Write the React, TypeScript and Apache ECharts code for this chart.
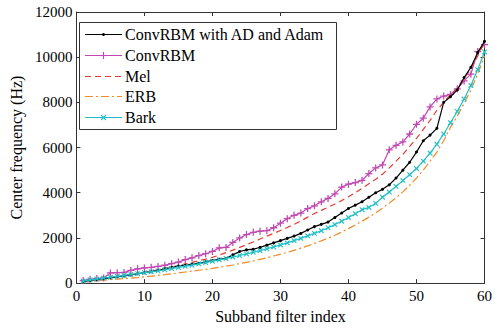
import { useEffect, useRef } from "react";
import * as echarts from "echarts";

const filterIndex = [
  1, 2, 3, 4, 5, 6, 7, 8, 9, 10, 11, 12, 13, 14, 15, 16, 17, 18, 19, 20,
  21, 22, 23, 24, 25, 26, 27, 28, 29, 30, 31, 32, 33, 34, 35, 36, 37, 38, 39, 40,
  41, 42, 43, 44, 45, 46, 47, 48, 49, 50, 51, 52, 53, 54, 55, 56, 57, 58, 59, 60,
];

const convRbmAdam = [
  80, 120, 160, 200, 240, 280, 320, 360, 410, 460, 500, 560, 630, 690, 750, 790, 830, 880, 940, 1000,
  1060, 1100, 1250, 1400, 1470, 1500, 1580, 1680, 1780, 1880, 1980, 2080, 2200, 2350, 2500, 2600, 2700, 2900, 3100, 3300,
  3450, 3600, 3800, 4000, 4150, 4350, 4650, 5000, 5350, 5800, 6300, 6550, 6850, 8000, 8250, 8550, 9100, 9550, 10200, 10700,
];

const convRbm = [
  110, 170, 200, 230, 450, 460, 470, 560, 630, 670, 700, 740, 790, 860, 930, 1040, 1120, 1220, 1300, 1400,
  1560, 1580, 1800, 2000, 2150, 2250, 2300, 2320, 2450, 2650, 2850, 3000, 3100, 3300, 3420, 3600, 3750, 3950, 4250, 4380,
  4450, 4550, 4850, 5100, 5230, 5900, 6100, 6250, 6600, 7030, 7300, 7800, 8150, 8280, 8350, 8600, 8950, 9250, 10250, 10560,
];

const mel = [
  70, 110, 150, 190, 230, 270, 320, 370, 420, 480, 530, 590, 650, 710, 780, 850, 920, 990, 1060, 1140,
  1240, 1350, 1460, 1580, 1700, 1820, 1950, 2080, 2200, 2330, 2460, 2600, 2750, 2920, 3080, 3220, 3360, 3500, 3650, 3820,
  4000, 4200, 4400, 4600, 4820, 5100, 5400, 5700, 6050, 6400, 6800, 7200, 7650, 8000, 8350, 8650, 9050, 9500, 10050, 10650,
];

const erb = [
  40, 70, 100, 130, 160, 180, 200, 220, 245, 275, 305, 340, 375, 415, 450, 490, 530, 570, 610, 650,
  700, 750, 800, 860, 920, 980, 1050, 1120, 1200, 1280, 1360, 1450, 1550, 1650, 1760, 1870, 1990, 2120, 2260, 2410,
  2570, 2740, 2920, 3110, 3320, 3540, 3780, 4040, 4330, 4650, 5000, 5400, 5800, 6300, 6900, 7400, 7950, 8550, 9250, 10050,
];

const bark = [
  90, 140, 180, 220, 260, 300, 340, 380, 420, 460, 500, 540, 590, 640, 690, 740, 790, 850, 910, 970,
  1030, 1090, 1150, 1220, 1290, 1360, 1440, 1520, 1600, 1690, 1780, 1880, 1980, 2090, 2200, 2320, 2450, 2590, 2740, 2900,
  3070, 3250, 3350, 3530, 3800, 4030, 4280, 4540, 4800, 5070, 5400, 5750, 6150, 6600, 7100, 7600, 8150, 8750, 9450, 10230,
];

const seriesNames = ["ConvRBM with AD and Adam", "ConvRBM", "Mel", "ERB", "Bark"];
const xLabel = "Subband filter index";
const yLabel = "Center frequency (Hz)";

const FONT = "Liberation Serif";
const AXIS_COLOR = "#333";
const PLUS = "path://M4.1,0H5.9V4.1H10V5.9H5.9V10H4.1V5.9H0V4.1H4.1Z";

const COLORS = ["#000000", "#c04ab2", "#e53b35", "#f08a24", "#22c0c6"];
const DASHES: (number[] | null)[] = [null, null, [6, 4], [8, 3, 2, 3], null];
const MARKERS = ["dot", "plus", "none", "none", "cross"];
const LW = 1.2;

function pairs(values: number[]) {
  return filterIndex.map((x, i) => [x, values[i]]);
}

function legendGraphics() {
  const boxX = 79;
  const boxY = 22;
  const boxW = 257;
  const boxH = 107;
  const rowH = 20.75;
  const firstY = 34;
  const lx1 = 85;
  const lx2 = 122;
  const mx = (lx1 + lx2) / 2;
  const els: any[] = [
    {
      type: "rect",
      shape: { x: boxX + 0.5, y: boxY + 0.5, width: boxW, height: boxH },
      style: { fill: "#fff", stroke: AXIS_COLOR, lineWidth: 1 },
      z: 100,
    },
  ];
  seriesNames.forEach((name, i) => {
    const cy = Math.round(firstY + i * rowH) + 0.5;
    const color = COLORS[i];
    els.push({
      type: "line",
      shape: { x1: lx1, y1: cy, x2: lx2, y2: cy },
      style: { stroke: color, lineWidth: LW, lineDash: DASHES[i] || undefined },
      z: 101,
    });
    const m = MARKERS[i];
    if (m === "dot") {
      els.push({ type: "circle", shape: { cx: mx, cy, r: 1.5 }, style: { fill: color }, z: 102 });
    } else if (m === "plus") {
      const s = 3.5;
      els.push({ type: "line", shape: { x1: mx - s, y1: cy, x2: mx + s, y2: cy }, style: { stroke: color, lineWidth: 1.1 }, z: 102 });
      els.push({ type: "line", shape: { x1: mx, y1: cy - s, x2: mx, y2: cy + s }, style: { stroke: color, lineWidth: 1.1 }, z: 102 });
    } else if (m === "cross") {
      const s = 2.5;
      els.push({ type: "line", shape: { x1: mx - s, y1: cy - s, x2: mx + s, y2: cy + s }, style: { stroke: color, lineWidth: 1.1 }, z: 102 });
      els.push({ type: "line", shape: { x1: mx - s, y1: cy + s, x2: mx + s, y2: cy - s }, style: { stroke: color, lineWidth: 1.1 }, z: 102 });
    }
    els.push({
      type: "text",
      x: 125,
      y: cy,
      style: {
        text: name,
        fill: "#000",
        font: `16px '${FONT}'`,
        textVerticalAlign: "middle",
        verticalAlign: "middle",
        align: "left",
      },
      z: 102,
    });
  });
  return els;
}

export default function App() {
  const ref = useRef<HTMLDivElement>(null);

  useEffect(() => {
    if (!ref.current) return;
    const chart = echarts.init(ref.current, undefined, { renderer: "svg" });

    const axisCommon = {
      type: "value" as const,
      splitLine: { show: false },
      axisLine: { show: true, onZero: false, lineStyle: { color: AXIS_COLOR, width: 1 } },
      axisTick: { show: true, inside: true, length: 4, lineStyle: { color: AXIS_COLOR } },
    };

    chart.setOption({
      animation: false,
      backgroundColor: "#fff",
      textStyle: { fontFamily: FONT },
      grid: { left: 74, right: 8, top: 12, bottom: 36, containLabel: false },
      xAxis: [
        {
          ...axisCommon,
          position: "bottom",
          min: 0,
          max: 60,
          interval: 10,
          name: xLabel,
          nameLocation: "middle",
          nameGap: 18,
          nameTextStyle: { fontFamily: FONT, fontSize: 16, color: "#000" },
          axisLabel: { fontFamily: FONT, fontSize: 15, color: "#000", margin: 5, formatter: (v: number) => String(v) },
        },
        {
          ...axisCommon,
          position: "top",
          min: 0,
          max: 60,
          interval: 10,
          axisLabel: { show: false },
        },
      ],
      yAxis: [
        {
          ...axisCommon,
          position: "left",
          min: 0,
          max: 12000,
          interval: 2000,
          name: yLabel,
          nameLocation: "middle",
          nameGap: 49,
          nameTextStyle: { fontFamily: FONT, fontSize: 16, color: "#000" },
          axisLabel: { fontFamily: FONT, fontSize: 15, color: "#000", margin: 4, formatter: (v: number) => String(v) },
        },
        {
          ...axisCommon,
          position: "right",
          min: 0,
          max: 12000,
          interval: 2000,
          axisLabel: { show: false },
        },
      ],
      graphic: legendGraphics(),
      series: [
        {
          name: seriesNames[0],
          type: "line",
          data: pairs(convRbmAdam),
          symbol: "circle",
          symbolSize: 3,
          showAllSymbol: true,
          lineStyle: { color: COLORS[0], width: LW },
          itemStyle: { color: COLORS[0] },
          z: 3,
        },
        {
          name: seriesNames[1],
          type: "line",
          data: pairs(convRbm),
          symbol: PLUS,
          symbolSize: 7,
          showAllSymbol: true,
          lineStyle: { color: COLORS[1], width: LW },
          itemStyle: { color: COLORS[1] },
          z: 2,
        },
        {
          name: seriesNames[2],
          type: "line",
          data: pairs(mel),
          symbol: "none",
          lineStyle: { color: COLORS[2], width: LW, type: DASHES[2] },
          itemStyle: { color: COLORS[2] },
          z: 2,
        },
        {
          name: seriesNames[3],
          type: "line",
          data: pairs(erb),
          symbol: "none",
          lineStyle: { color: COLORS[3], width: LW, type: DASHES[3] },
          itemStyle: { color: COLORS[3] },
          z: 2,
        },
        {
          name: seriesNames[4],
          type: "line",
          data: pairs(bark),
          symbol: PLUS,
          symbolRotate: 45,
          symbolSize: 6.5,
          showAllSymbol: true,
          lineStyle: { color: COLORS[4], width: LW },
          itemStyle: { color: COLORS[4] },
          z: 4,
        },
      ],
    });

    return () => chart.dispose();
  }, []);

  return (
    <div
      ref={ref}
      style={{ position: "fixed", left: 0, top: 0, width: 495, height: 329, background: "#fff" }}
    />
  );
}
